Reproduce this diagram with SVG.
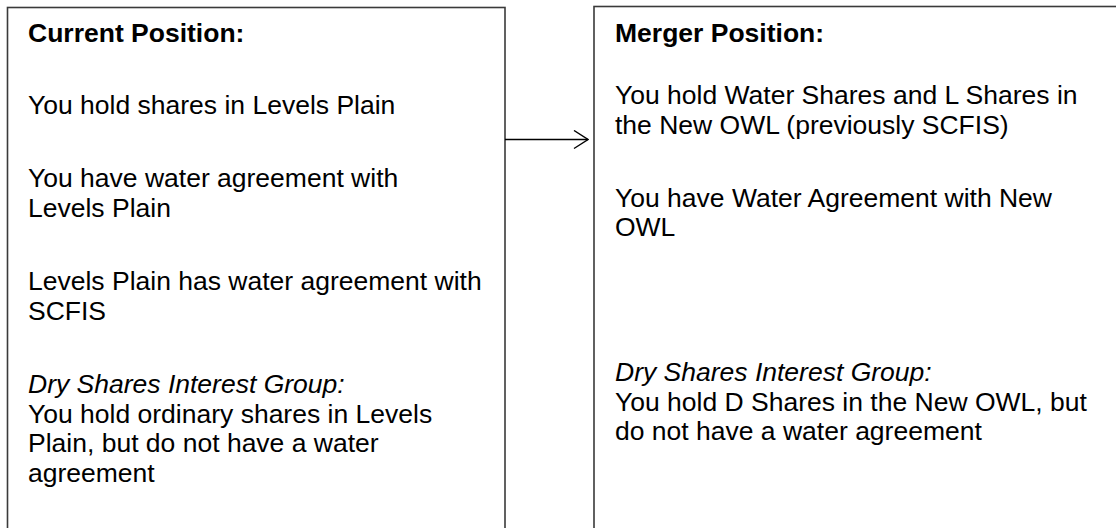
<svg xmlns="http://www.w3.org/2000/svg" width="1116" height="528" viewBox="0 0 1116 528">
<defs>
<style>
.box{fill:#ffffff;stroke:#3a3a3a;stroke-width:1.6}
.t{font-family:"Liberation Sans",Arial,sans-serif;font-size:26.5px;fill:#000}
.b{font-weight:bold}
.i{font-style:italic}
.conn{stroke:#000;stroke-width:1.4;fill:none}
</style>
<marker id="arr" viewBox="0 0 16 20" refX="15" refY="10" markerWidth="16" markerHeight="20" markerUnits="userSpaceOnUse" orient="auto">
<path d="M1,1 L15,10 L1,19" fill="none" stroke="#000" stroke-width="1.4"/>
</marker>
</defs>
<rect width="1116" height="528" fill="#fff"/>
<g id="current">
<rect class="box" x="7.5" y="7.5" width="497.5" height="540"/>
<text class="t b" x="28" y="42">Current Position:</text>
<text class="t" x="28" y="114">You hold shares in Levels Plain</text>
<text class="t" x="28" y="187">You have water agreement with</text>
<text class="t" x="28" y="216.5">Levels Plain</text>
<text class="t" x="28" y="290">Levels Plain has water agreement with</text>
<text class="t" x="28" y="319.5">SCFIS</text>
<text class="t i" x="28" y="393">Dry Shares Interest Group:</text>
<text class="t" x="28" y="422.5">You hold ordinary shares in Levels</text>
<text class="t" x="28" y="452">Plain, but do not have a water</text>
<text class="t" x="28" y="481.5">agreement</text>
</g>
<g id="merger">
<rect class="box" x="594" y="6.5" width="540" height="540"/>
<text class="t b" x="615" y="42">Merger Position:</text>
<text class="t" x="615" y="104">You hold Water Shares and L Shares in</text>
<text class="t" x="615" y="133.5">the New OWL (previously SCFIS)</text>
<text class="t" x="615" y="206.5">You have Water Agreement with New</text>
<text class="t" x="615" y="236">OWL</text>
<text class="t i" x="615" y="381">Dry Shares Interest Group:</text>
<text class="t" x="615" y="410.5">You hold D Shares in the New OWL, but</text>
<text class="t" x="615" y="440">do not have a water agreement</text>
</g>
<g id="connectors">
<line class="conn" x1="505" y1="139.5" x2="588" y2="139.5" marker-end="url(#arr)"/>
</g>
</svg>
